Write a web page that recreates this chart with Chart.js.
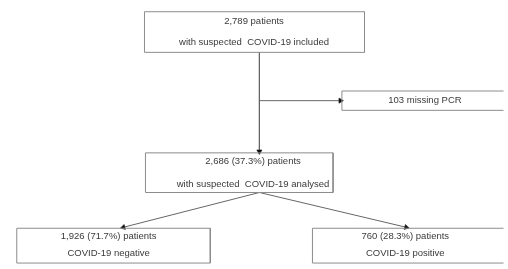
<!DOCTYPE html>
<html>
<head>
<meta charset="utf-8">
<script src="https://cdn.jsdelivr.net/npm/chart.js@4.4.1/dist/chart.umd.min.js"></script>
<style>
  html, body { margin: 0; padding: 0; background: #fff; overflow: hidden; }
  #wrap { width: 508px; height: 269px; }
</style>
</head>
<body>
<div id="wrap"><canvas id="flowChart"></canvas></div>
<script>
// flow values
const patientCounts = [2789, 103, 2686, 1926, 760];
const patientPercents = [null, null, 37.3, 71.7, 28.3];
const stageLabels = [
  'with suspected  COVID-19 included',
  'missing PCR',
  'with suspected  COVID-19 analysed',
  'COVID-19 negative',
  'COVID-19 positive'
];

// layout (pixel-like units on the hidden axes)
const boxes = [
  { x0: 142.5, y0: 7.5, x1: 366.5, y1: 49.5, tx: 254, lines: [17, 39] },
  { x0: 343.5, y0: 89.5, x1: 510, y1: 109.5, tx: 428, lines: [99] },
  { x0: 143.5, y0: 153.5, x1: 334.5, y1: 194.5, tx: 253, lines: [162, 186] },
  { x0: 12.5, y0: 231.5, x1: 209.5, y1: 267.5, tx: 106, lines: [240, 258] },
  { x0: 313.5, y0: 231.5, x1: 510, y1: 267.5, tx: 408, lines: [240, 258] }
];
const links = [
  [[259.5, 49.5], [259.5, 152]],
  [[259.5, 99.5], [342, 99.5]],
  [[259.5, 194.5], [121, 230.5]],
  [[259.5, 194.5], [409, 230.5]]
];

const fmt = n => n.toLocaleString('en-US');

function boxText(i) {
  const c = fmt(patientCounts[i]);
  if (i === 1) return [c + ' ' + stageLabels[i]];
  const p = patientPercents[i] == null ? '' : ' (' + patientPercents[i] + '%)';
  return [c + p + ' patients', stageLabels[i]];
}

const datasets = [];
boxes.forEach(b => {
  datasets.push({
    data: [
      { x: b.x0, y: b.y0 }, { x: b.x1, y: b.y0 },
      { x: b.x1, y: b.y1 }, { x: b.x0, y: b.y1 }, { x: b.x0, y: b.y0 }
    ],
    showLine: true,
    borderColor: '#8c8c8c',
    borderWidth: 1,
    pointRadius: 0,
    tension: 0
  });
});
links.forEach(l => {
  const dx = l[1][0] - l[0][0], dy = l[1][1] - l[0][1];
  const ang = Math.atan2(dx, -dy) * 180 / Math.PI;
  datasets.push({
    data: l.map(p => ({ x: p[0], y: p[1] })),
    showLine: true,
    borderColor: '#666',
    backgroundColor: '#111',
    borderWidth: 1,
    pointStyle: 'triangle',
    pointRadius: [0, 3],
    pointBorderColor: '#111',
    pointBorderWidth: 0.5,
    rotation: [0, ang],
    tension: 0
  });
});

const boxLabels = {
  id: 'boxLabels',
  afterDatasetsDraw(chart) {
    const { ctx, scales: { x, y } } = chart;
    ctx.save();
    ctx.fillStyle = '#3a3a3a';
    ctx.font = '9.5px "Liberation Sans", Arial, sans-serif';
    ctx.textAlign = 'center';
    ctx.textBaseline = 'middle';
    boxes.forEach((b, i) => {
      boxText(i).forEach((t, k) => {
        ctx.fillText(t, x.getPixelForValue(b.tx), y.getPixelForValue(b.lines[k]));
      });
    });
    ctx.restore();
  }
};

new Chart(document.getElementById('flowChart'), {
  type: 'scatter',
  data: { datasets },
  options: {
    responsive: true,
    maintainAspectRatio: false,
    animation: false,
    layout: { padding: 0 },
    plugins: { legend: { display: false }, tooltip: { enabled: false } },
    scales: {
      x: { type: 'linear', min: 0, max: 508, display: false },
      y: { type: 'linear', min: 0, max: 269, reverse: true, display: false }
    }
  },
  plugins: [boxLabels]
});
</script>
</body>
</html>
